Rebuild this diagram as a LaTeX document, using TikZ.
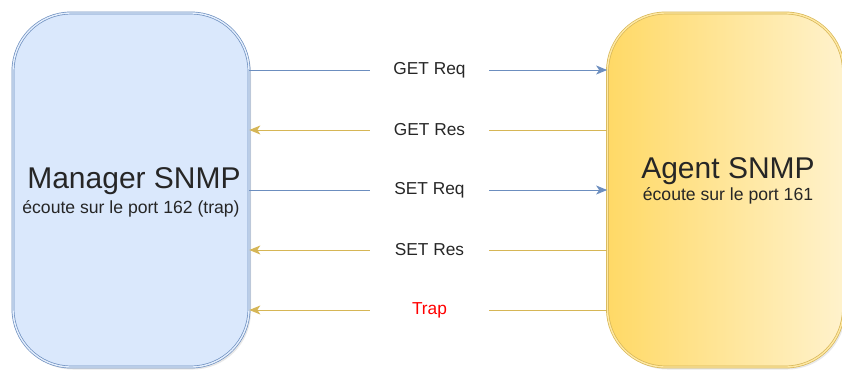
\documentclass[tikz,border=0pt]{standalone}
\usepackage{fontspec}
\setmainfont{Liberation Sans}
\usetikzlibrary{arrows.meta,shadows}
\definecolor{mgrfill}{HTML}{DAE8FC}
\definecolor{mgrline}{HTML}{6C8EBF}
\definecolor{agtline}{HTML}{D6B656}
\definecolor{agtA}{HTML}{FFD966}
\definecolor{agtB}{HTML}{FFF2CC}
\definecolor{traptext}{HTML}{FF0000}
\begin{document}
\begin{tikzpicture}[x=1pt,y=-1pt,
  boxbase/.style={rectangle,rounded corners=58pt,line width=0.7pt,double distance=1.4pt,
     minimum width=236pt,minimum height=354pt,inner sep=0pt,
     drop shadow={opacity=0.18,shadow xshift=2pt,shadow yshift=-2.5pt}},
  mgrbox/.style={boxbase,draw=mgrline,double=mgrfill!70!white,fill=mgrfill},
  agtbox/.style={boxbase,draw=agtline,double=agtA!60!white,left color=agtA,right color=agtB},
  title/.style={anchor=base,inner sep=0pt,font=\fontsize{30}{34}\selectfont,text=black!85},
  subtitle/.style={anchor=base,inner sep=0pt,font=\fontsize{17.6}{20}\selectfont,text=black!85},
  msg/.style={inner sep=0pt,minimum width=119pt,minimum height=20pt,font=\fontsize{17.3}{20}\selectfont,text=black!85},
  reqline/.style={draw=mgrline,line width=1pt},
  resline/.style={draw=agtline,line width=1pt},
  tip/.style={-{Stealth[length=11pt,width=9pt,inset=3pt]}}
]
\useasboundingbox (0,0) rectangle (842,373);
\node[mgrbox] (mgr) at (131,190) {};
\node[agtbox] (agt) at (725.5,190) {};
\node[title] (mgrtitle) at (134,188) {Manager SNMP};
\node[subtitle] (mgrsub) at (131,213) {écoute sur le port 162 (trap)};
\node[title] (agttitle) at (728,178) {Agent SNMP};
\node[subtitle] (agtsub) at (728,200) {écoute sur le port 161};
% message labels
\node[msg] (m1) at (429.5,70) {GET Req};
\node[msg] (m2) at (429.5,130) {GET Res};
\node[msg] (m3) at (429.5,190) {SET Req};
\node[msg] (m4) at (429.5,250) {SET Res};
\node[msg,text=traptext] (m5) at (429.5,310) {Trap};
% requests: manager -> agent
\draw[reqline] (mgr.east |- m1) -- (m1.west);
\draw[reqline,tip] (m1.east) -- (agt.west |- m1);
\draw[reqline] (mgr.east |- m3) -- (m3.west);
\draw[reqline,tip] (m3.east) -- (agt.west |- m3);
% responses: agent -> manager
\draw[resline] (agt.west |- m2) -- (m2.east);
\draw[resline,tip] (m2.west) -- (mgr.east |- m2);
\draw[resline] (agt.west |- m4) -- (m4.east);
\draw[resline,tip] (m4.west) -- (mgr.east |- m4);
\draw[resline] (agt.west |- m5) -- (m5.east);
\draw[resline,tip] (m5.west) -- (mgr.east |- m5);
\end{tikzpicture}
\end{document}
